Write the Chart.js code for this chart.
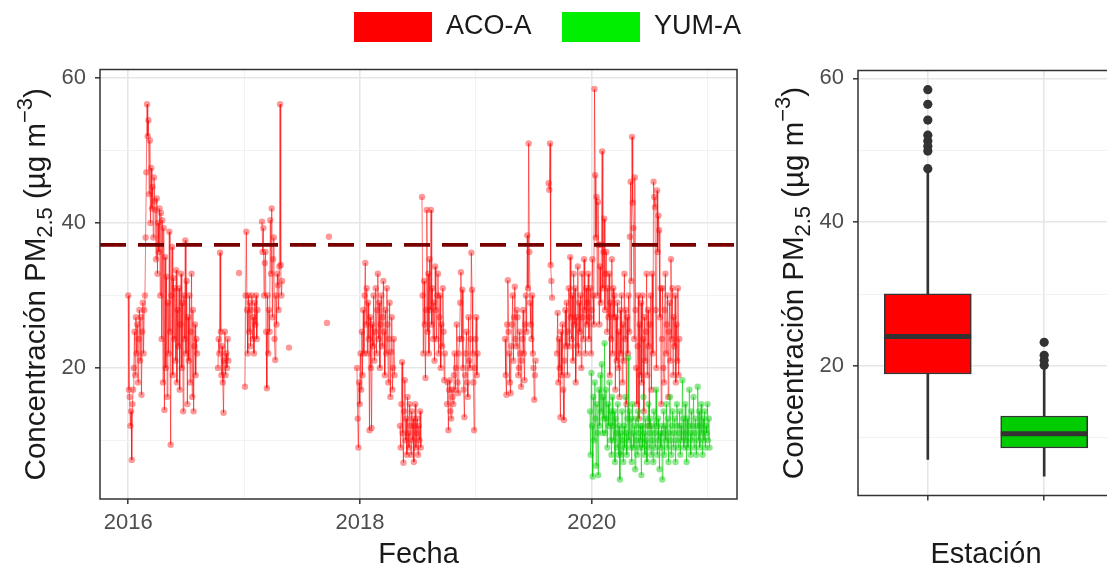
<!DOCTYPE html>
<html><head><meta charset="utf-8">
<script src="https://cdn.jsdelivr.net/npm/chart.js@4.4.1/dist/chart.umd.min.js"></script>
<style>
html,body{margin:0;padding:0;background:#fff;overflow:hidden;width:1107px;height:571px;}
#c1{position:absolute;left:0;top:0;}
#c2{position:absolute;left:740px;top:0;}
</style></head><body>
<canvas id="c1" width="1107" height="571"></canvas>
<canvas id="c2" width="380" height="571"></canvas>
<script>
// ---------------- DATA ----------------
const seriesNames = ['ACO-A', 'YUM-A'];
// ACO-A: runs of consecutive observations (start as decimal year, fixed step)
const acoStep = 0.006;
const acoRunStarts = [2016.000, 2016.774, 2016.956, 2017.007, 2017.154, 2017.387, 2017.715, 2017.732,
                      2017.974, 2018.345, 2018.535, 2018.751, 2019.252, 2019.628, 2019.700];
const aco2016a = [30,17,16,12,14,7.3,15,17,
  20,25,19,27,22,26,18,24,28,21,27,16.3,25,29,22,28,30,
  38,47,56.4,52,54.2,44,51.4,40,47.6,42,45,38,46.3,43,41.8,35,43.4,33,40,36,42,30,
  41.4,24,40.4,18,39.3,14.2,35.3,20,32.6,16,29,22,38.8,25,9.4,30,36.7,19,32.4,24,31,21,
  33.5,18,28,23,31,17,26,33,20,29,14,30,24,37.6,22,32,15,27,21,30,18,25,33,16,28,14,23,26,19,24,22];
const aco2016b = [20,24,22,35.9,25,19,23,18,13.8,21,25,19,22,20,24,21];
const aco2016c = [33.1];
const aco2017a = [17.4,30,38.8,28,22,30,25,29,23,28,30,24,27,22,29,26,30,24,28];
const aco2017b = [40.2,36,39.3,30,34.5,36,25,17.2,30,22,28,25,40.4,33,42,27,35,38,24,21.1,30,26,33,31.4,28,34,56.4,34.2,30,32];
const aco2017c = [22.8];
const aco2017d = [26.2];
const aco2017e = [38.1];
const aco2018a = [20,13,9,18,15,22,17,25,19,28,22,30,
  34.5,26,31,22,29,24,11.4,27,20,11.7,26,23,30,21,
  25,31,22,28,33,24,29,20,26,30,23,27,32,25,19,28,22,31,26,18,24,29,16,22.2,27,17,20,24,19];
const aco2018b = [12,9,15,20.8,11,6.9,14,18.3,10,13,8,16,11,9,15,12,8,14,10,13,7,12,15,9,11,13,8,12,10,14,9];
const aco2018c = [43.6,30,22,32,26,18.6,28,41.8,25,33,22,35,28,41.8,26,31,24,29,21,34,28,24,30,33,22,27,30,20,26,23,31,25,18.3,22];
const aco2018d = [15,18,11.4,17,18.3,14,13,17,16,15,19,22,17,20,26,18,16.5,22,24,29,33.2,24,30.8,20,17,13.2,19,22,25,18,16,27,21,20,24,35.9,30.8,22,18,11.4,20,24,27,19,22];
const aco2019a = [24,19,16.3,26,32.1,25,22,18,16.5,23,26,30,21,27,31.2,24,23,28,27,19,20,25,22,17.4,21,24,28,22,18.3,26,30,25,38.3,31,51,36,29,26,24,30,22,20,15.6,19,21];
const aco2019b = [45.5,44.6,51,34.2,32,29.7];
const aco2020 = [22,27.6,18,24,20,13.2,25,19,26,17,12.8,21,28,23,29,19,25,31,23,35.3,27,24,30,21,33,26,
  31,18,27,23,34,22,29,25,30,20,33,27,24,35,28,22,31,26,29,33,24,27,31,22,28,35,30,26,58.5,
  46.6,38,43.6,30,42.9,37,26,34,29,37,49.9,31,36,40.6,28,33,36,25,31,27,33,19,29,24,35,22,31,27,30,
  17,27,21,29,20,25,16,28,22,30,18,26,21,33,24,28,15,27,22,30,25,38.1,
  45.7,32,51.9,42.8,39.3,24,46.3,28,20,15,23,30,13,26,19,29,18,30,24,14,27,21,25,33,19,28,23,12,26,
  30,17,33,22,45.7,43.6,42.2,28,20,44.5,36,41,39,27,31,15,24,31,20,18,28,33,22,26,30,16,25,29,21,35,24,31,19,27,23,30,18,26,21,31,19,24];
const acoRuns = [aco2016a, aco2016b, aco2016c, aco2017a, aco2017b, aco2017c, aco2017d, aco2017e,
                 aco2018a, aco2018b, aco2018c, aco2018d, aco2019a, aco2019b, aco2020];
// YUM-A
const yumStep = 0.006;
const yumRunStarts = [2019.985];
const yum2020 = [14,8,19.3,12,5,16,10,18,13,6.5,15,11,5.2,17,12,19,14,20.5,11,16,13,23.4,
  11,17,13,9,15,12,18,10,14,8,16,12,10,14,7,13,11,9,15,8,12,4.6,
  11,8,14,10,7,12,9,16,11,8,13,21.4,10,14,9,13,7,15,11,9,12,6,13,10,8,14,11,9,12,
  10,5.2,12,9,16,11,8,13,10,7,12,15,9,11,13,8,12,10,7,14,11,9,17,12,8,13,10,6,11,
  9,12,4.6,11,14,8,12,10,15,9,13,7,11,16,10,8,12,14,9,11,13,7,10,15,12,9,11,14,8,12,10,18.3,13,9,11,15,
  10,7,13,9,12,17,11,8,14,10,12,16,9,11,13,8,12,17.4,10,14,9,12,15,11,8,13,10,14,9,12,11,15,10,13,9];
const yumRuns = [yum2020];
const thresholdValue = 37;

// axes
const yTickValues = [10, 20, 30, 40, 50, 60];
const yTickLabels = ['', '20', '', '40', '', '60'];
const xTickValues = [2016, 2017, 2018, 2019, 2020, 2021];
const xTickLabels = ['2016', '', '2018', '', '2020', ''];

// boxplot
const boxStations = ['ACO-A', 'YUM-A'];
const boxLow = [7.0, 4.7];
const boxQ1 = [18.9, 8.6];
const boxMedian = [24.1, 10.6];
const boxQ3 = [30.05, 13.05];
const boxHigh = [46.8, 19.7];
const acoOutliers = [58.44, 56.4, 54.2, 52.1, 51.3, 50.56, 49.9, 47.45];
const yumOutliers = [23.3, 21.5, 20.8, 20.1];

const xTitleLeft = 'Fecha';
const xTitleRight = 'Estación';

// ---------------- HELPERS ----------------
const FONT = '"Liberation Sans", Arial, Helvetica, sans-serif';
Chart.defaults.font.family = FONT;
const RED = '#ff0000', GREEN = '#00ee00', GREEN_BOX = '#00cc00', DARK = '#333333';

function buildPoints(starts, runs, step) {
  const pts = [];
  runs.forEach((run, r) => {
    run.forEach((v, i) => pts.push({x: starts[r] + i * step, y: v}));
    pts.push({x: starts[r] + run.length * step, y: null});
  });
  return pts;
}

function drawYTitle(ctx, cx, cy) {
  const parts = [
    {t: 'Concentración PM', s: 29.5, dy: 0},
    {t: '2.5', s: 22, dy: 7},
    {t: ' (µg m', s: 29.5, dy: 0},
    {t: '−3', s: 22, dy: -13},
    {t: ')', s: 29.5, dy: 0}
  ];
  ctx.save();
  ctx.translate(cx, cy);
  ctx.rotate(-Math.PI / 2);
  let total = 0;
  parts.forEach(p => { ctx.font = p.s + 'px ' + FONT; p.w = ctx.measureText(p.t).width; total += p.w; });
  let x = -total / 2;
  ctx.fillStyle = '#1a1a1a';
  ctx.textBaseline = 'alphabetic';
  ctx.textAlign = 'left';
  parts.forEach(p => { ctx.font = p.s + 'px ' + FONT; ctx.fillText(p.t, x, p.dy); x += p.w; });
  ctx.restore();
}

const panelDecor = {
  id: 'panelDecor',
  afterDatasetsDraw(chart) {
    const {ctx, chartArea: a} = chart;
    ctx.save();
    ctx.strokeStyle = DARK;
    ctx.lineWidth = 1.5;
    ctx.strokeRect(a.left, a.top, a.right - a.left, a.bottom - a.top);
    ctx.restore();
    drawYTitle(ctx, a.left - 55, (a.top + a.bottom) / 2);
  }
};

const legendDecor = {
  id: 'legendDecor',
  afterDraw(chart) {
    const ctx = chart.ctx;
    const items = [{c: RED, x: 354, t: seriesNames[0]}, {c: GREEN, x: 562, t: seriesNames[1]}];
    ctx.save();
    items.forEach(it => {
      ctx.fillStyle = it.c;
      ctx.fillRect(it.x, 12, 78, 30);
      ctx.fillStyle = '#1a1a1a';
      ctx.font = '27px ' + FONT;
      ctx.textBaseline = 'middle';
      ctx.textAlign = 'left';
      ctx.fillText(it.t, it.x + 92, 27);
    });
    ctx.restore();
  }
};

function isMajorY(v) { return yTickLabels[yTickValues.indexOf(v)] !== ''; }
function isMajorX(v) { return xTickLabels[xTickValues.indexOf(v)] !== ''; }

const yAxisCommon = (width) => ({
  type: 'linear',
  afterBuildTicks: s => { s.ticks = yTickValues.map(v => ({value: v})); },
  afterFit: s => { s.width = width; },
  ticks: {
    callback: (v) => yTickLabels[yTickValues.indexOf(v)],
    color: '#4d4d4d', font: {size: 22, family: FONT}, padding: 9, autoSkip: false
  },
  grid: {
    color: c => isMajorY(c.tick.value) ? '#e6e6e6' : '#f2f2f2',
    lineWidth: c => isMajorY(c.tick.value) ? 1.6 : 1,
    tickColor: c => isMajorY(c.tick.value) ? DARK : 'rgba(0,0,0,0)',
    tickWidth: 1.5, tickLength: 5, drawTicks: true
  },
  border: {display: false}
});

// ---------------- LEFT PANEL ----------------
new Chart(document.getElementById('c1'), {
  type: 'line',
  data: {
    datasets: [
      {
        label: 'threshold',
        data: [{x: 2015.756, y: thresholdValue}, {x: 2021.254, y: thresholdValue}],
        borderColor: '#7a0000', borderWidth: 3.8, borderDash: [26, 12], pointRadius: 0,
        order: -1, borderCapStyle: 'butt'
      },
      {
        label: seriesNames[1],
        data: buildPoints(yumRunStarts, yumRuns, yumStep),
        borderColor: 'rgba(0,200,0,0.55)', borderWidth: 1,
        pointRadius: 3.2, pointBackgroundColor: 'rgba(0,205,0,0.45)', pointBorderWidth: 0,
        spanGaps: false, tension: 0, order: 0
      },
      {
        label: seriesNames[0],
        data: buildPoints(acoRunStarts, acoRuns, acoStep),
        borderColor: 'rgba(255,0,0,0.55)', borderWidth: 1,
        pointRadius: 3.2, pointBackgroundColor: 'rgba(255,0,0,0.4)', pointBorderWidth: 0,
        spanGaps: false, tension: 0, order: 1
      }
    ]
  },
  options: {
    responsive: false, animation: false, events: [],
    layout: {padding: {left: 0, right: 370, top: 69.5, bottom: 0}},
    plugins: {legend: {display: false}, tooltip: {enabled: false}},
    scales: {
      x: {
        type: 'linear', min: 2015.756, max: 2021.254,
        afterBuildTicks: s => { s.ticks = xTickValues.map(v => ({value: v})); },
        afterFit: s => { s.height = 72; },
        ticks: {
          callback: v => xTickLabels[xTickValues.indexOf(v)],
          color: '#4d4d4d', font: {size: 22, family: FONT}, padding: 6,
          autoSkip: false, maxRotation: 0
        },
        grid: {
          color: c => isMajorX(c.tick.value) ? '#e6e6e6' : '#f2f2f2',
          lineWidth: c => isMajorX(c.tick.value) ? 1.6 : 1,
          tickColor: c => isMajorX(c.tick.value) ? DARK : 'rgba(0,0,0,0)',
          tickWidth: 1.5, tickLength: 5, drawTicks: true
        },
        border: {display: false},
        title: {display: true, text: xTitleLeft, color: '#1a1a1a',
                font: {size: 29, family: FONT, lineHeight: 1.1}, padding: {top: 0, bottom: 0}}
      },
      y: Object.assign(yAxisCommon(100), {min: 1.9, max: 61.2})
    }
  },
  plugins: [panelDecor, legendDecor]
});

// ---------------- RIGHT PANEL (boxplot) ----------------
const pos = [1, 2];
new Chart(document.getElementById('c2'), {
  type: 'bar',
  data: {
    datasets: [
      {
        label: 'whisker-low', type: 'bar', grouped: false, order: 4,
        data: pos.map((p, i) => ({x: p, y: [boxLow[i], boxQ1[i]]})),
        backgroundColor: DARK, barThickness: 2
      },
      {
        label: 'whisker-high', type: 'bar', grouped: false, order: 4,
        data: pos.map((p, i) => ({x: p, y: [boxQ3[i], boxHigh[i]]})),
        backgroundColor: DARK, barThickness: 2
      },
      {
        label: 'box', type: 'bar', grouped: false, order: 3,
        data: pos.map((p, i) => ({x: p, y: [boxQ1[i], boxQ3[i]]})),
        backgroundColor: [RED, GREEN_BOX], borderColor: DARK, borderWidth: 1.5,
        borderSkipped: false, barThickness: 87
      },
      {
        label: 'median', type: 'bar', grouped: false, order: 2,
        data: pos.map((p, i) => ({x: p, y: [boxMedian[i] - 0.3, boxMedian[i] + 0.3]})),
        backgroundColor: DARK, barThickness: 86
      },
      {
        label: 'outliers', type: 'scatter', order: 1,
        data: acoOutliers.map(v => ({x: pos[0], y: v})).concat(yumOutliers.map(v => ({x: pos[1], y: v}))),
        pointRadius: 4.6, pointBackgroundColor: DARK, pointBorderWidth: 0, showLine: false
      }
    ]
  },
  options: {
    responsive: false, animation: false, events: [],
    layout: {padding: {left: 0, right: 6, top: 70.5, bottom: 0}},
    plugins: {legend: {display: false}, tooltip: {enabled: false}},
    scales: {
      x: {
        type: 'linear', min: 0.4, max: 2.6, offset: false,
        afterBuildTicks: s => { s.ticks = pos.map(v => ({value: v})); },
        afterFit: s => { s.height = 75.5; },
        ticks: {callback: () => '', font: {size: 22, family: FONT}, padding: 4, autoSkip: false, maxRotation: 0},
        grid: {offset: false, color: '#e6e6e6', lineWidth: 1.6, tickColor: DARK, tickWidth: 1.5, tickLength: 5},
        border: {display: false},
        title: {display: true, text: xTitleRight, color: '#1a1a1a',
                font: {size: 29, family: FONT, lineHeight: 1.1}, padding: {top: 0, bottom: 0}}
      },
      y: Object.assign(yAxisCommon(118), {min: 2.0, max: 61.1, beginAtZero: false})
    }
  },
  plugins: [panelDecor]
});
</script>
</body></html>
